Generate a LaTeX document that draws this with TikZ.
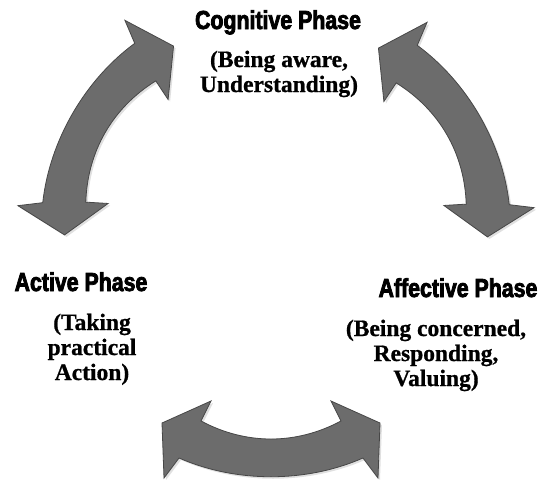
\documentclass[tikz,border=0pt]{standalone}
\usepackage{fontspec}
\newfontfamily\headfont[UprightFont={* Bold}, FakeStretch=0.82, FakeBold=3]{Liberation Sans}
\newfontfamily\subfont[BoldFeatures={FakeBold=0.8}]{Liberation Serif}
\begin{document}
\begin{tikzpicture}[x=1pt, y=1pt,
  head/.style={inner sep=0pt, anchor=base, text=black,
    font=\headfont\fontsize{26}{28}\selectfont},
  sub/.style={inner sep=0pt, anchor=base, align=center, text=black,
    font=\subfont\bfseries\fontsize{23.5}{25}\selectfont},
  arrowbody/.style={fill=arrowgray, draw=arrowedge, line width=0.8pt, line join=miter},
  arrowshadow/.style={fill=black, opacity=0.12},
  dblarrow/.pic={
    % curved double-headed arrow, bottom position, centre of the cycle at origin
    \path[pic actions]
      (-109,-187) -- (-60,-165) -- (-70,-185)
      .. controls (-25,-209) and (25,-209) .. (70,-185)
      -- (60,-165) -- (109,-187) -- (107,-242) -- (92,-222)
      .. controls (35,-247) and (-35,-247) .. (-92,-222)
      -- (-107,-242) -- cycle;
  }
]
\definecolor{arrowgray}{HTML}{6C6C6C}
\definecolor{arrowedge}{HTML}{474747}

\useasboundingbox (0,0) rectangle (541,-483);
\fill[white] (0,0) rectangle (541,-483);

% soft shadows under the three arrows
\pic[arrowshadow, shift={(273,-238)}] {dblarrow};
\pic[arrowshadow, shift={(273,-238)}, rotate=120] {dblarrow};
\pic[arrowshadow, shift={(283,-236)}, rotate=-120] {dblarrow};

% the three arrows of the cycle
\pic[arrowbody, shift={(271,-236)}] {dblarrow};
\pic[arrowbody, shift={(271,-236)}, rotate=120] {dblarrow};
\pic[arrowbody, shift={(281,-234)}, rotate=-120] {dblarrow};

% phase labels (a multi-line node sits on the baseline of its last line)
\node[head] (cogH) at (278,-29) {Cognitive Phase};
\node[sub]  (cogS) at (279,-92) {(Being aware,\\Understanding)};
\node[head] (actH) at (81,-291) {Active Phase};
\node[sub]  (actS) at (92,-380) {(Taking\\practical\\Action)};
\node[head] (affH) at (458,-297) {Affective Phase};
\node[sub]  (affS) at (436,-386) {(Being concerned,\\Responding,\\Valuing)};
\end{tikzpicture}
\end{document}
